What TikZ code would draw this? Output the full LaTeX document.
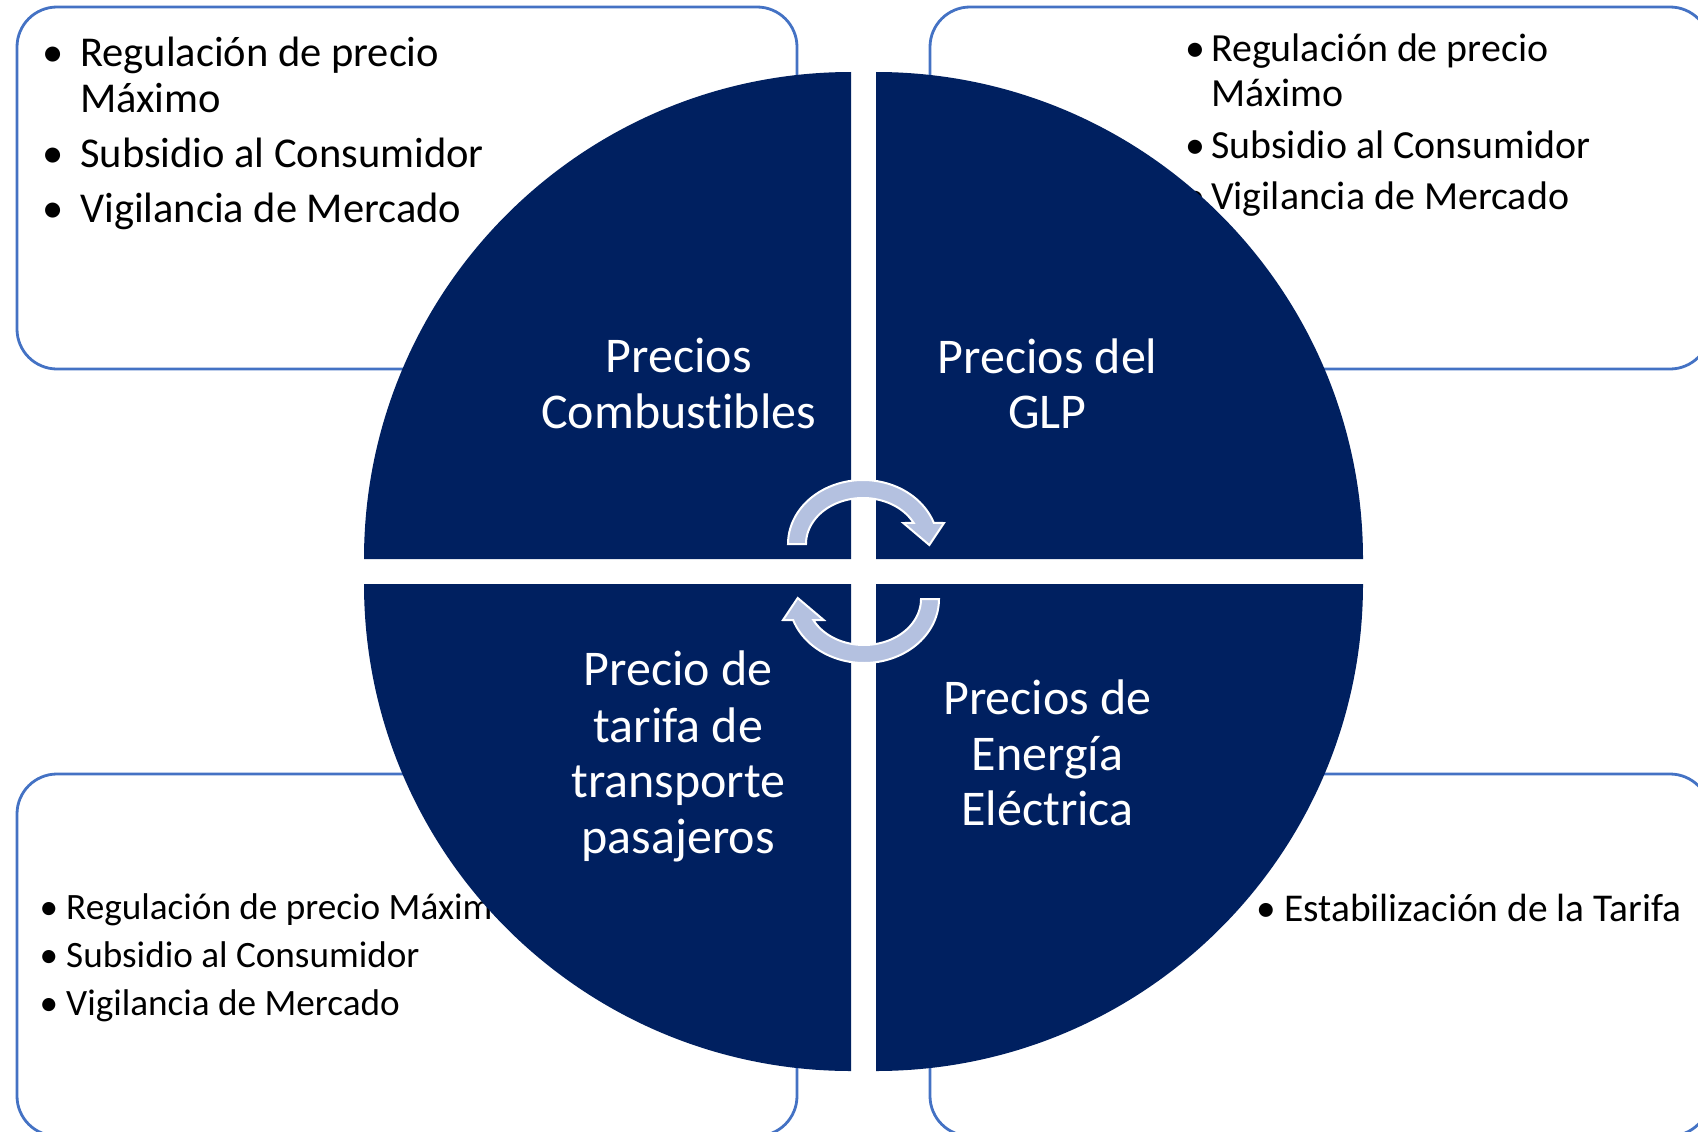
\documentclass[tikz,border=0pt]{standalone}
\usepackage{fontspec}
\setmainfont[Ligatures={NoCommon}]{Carlito}
\definecolor{navy}{HTML}{002060}
\definecolor{boxblue}{HTML}{4472C4}
\definecolor{arrowfill}{HTML}{B4C1E0}
\newcommand\setfs[1]{\fontsize{#1}{#1}\selectfont}
\begin{document}
\begin{tikzpicture}[x=1pt,y=-1pt,
  infobox/.style={draw=boxblue, line width=2.8pt, rounded corners=40pt},
  quad/.style={fill=navy},
  txt/.style={anchor=base west, inner sep=0pt, text=black},
  bul/.style={anchor=base, inner sep=0pt, text=black},
  lab/.style={anchor=base, inner sep=0pt, text=white, font=\setfs{50}},
  cyc/.style={fill=arrowfill, draw=white, line width=2pt, line join=miter}]
\useasboundingbox (0,0) rectangle (1698,1132);
\clip (0,0) rectangle (1698,1132);
\fill[white] (0,0) rectangle (1698,1132);

% boxes
\draw[infobox] (17,7) rectangle (797,369);
\draw[infobox] (930,7) rectangle (1710,369);
\draw[infobox] (17,774) rectangle (797,1136);
\draw[infobox] (930,774) rectangle (1710,1136);

% top-left box text
\begin{scope}[every node/.append style={font=\setfs{42.5}}]
\node[bul] (tl1b) at (52.6,66.8) {\textbullet};
\node[txt] (tl1) at (80,66.8) {Regulación de precio};
\node[txt] (tl1c) at (80,112.6) {Máximo};
\node[bul] (tl2b) at (52.6,167.9) {\textbullet};
\node[txt] (tl2) at (80,167.9) {Subsidio al Consumidor};
\node[bul] (tl3b) at (52.6,222) {\textbullet};
\node[txt] (tl3) at (80,222) {Vigilancia de Mercado};
\end{scope}

% top-right box text
\begin{scope}[every node/.append style={font=\setfs{39.9}}]
\node[bul] (tr1b) at (1195,62) {\textbullet};
\node[txt] (tr1) at (1211,62) {Regulación de precio};
\node[txt] (tr1c) at (1211,106.5) {Máximo};
\node[bul] (tr2b) at (1195,158) {\textbullet};
\node[txt] (tr2) at (1211,158) {Subsidio al Consumidor};
\node[bul] (tr3b) at (1195,209.4) {\textbullet};
\node[txt] (tr3) at (1211,209.4) {Vigilancia de Mercado};
\end{scope}

% bottom-left box text
\begin{scope}[every node/.append style={font=\setfs{37.2}}]
\node[bul] (bl1b) at (49,919) {\textbullet};
\node[txt] (bl1) at (66,919) {Regulación de precio Máximo};
\node[bul] (bl2b) at (49,967.4) {\textbullet};
\node[txt] (bl2) at (66,967.4) {Subsidio al Consumidor};
\node[bul] (bl3b) at (49,1015.5) {\textbullet};
\node[txt] (bl3) at (66,1015.5) {Vigilancia de Mercado};
\end{scope}

% bottom-right box text
\begin{scope}[every node/.append style={font=\setfs{39.4}}]
\node[bul] (br1b) at (1266,921.6) {\textbullet};
\node[txt] (br1) at (1284,921.6) {Estabilización de la Tarifa};
\end{scope}

% quadrants: quarter discs centred at the inner corners
\fill[quad] (851,559) -- (851,72) arc[start angle=-90, end angle=-180, radius=487] -- cycle;
\fill[quad] (876,559) -- (876,72) arc[start angle=-90, end angle=0, radius=487] -- cycle;
\fill[quad] (851,584) -- (851,1071) arc[start angle=90, end angle=180, radius=487] -- cycle;
\fill[quad] (876,584) -- (876,1071) arc[start angle=90, end angle=0, radius=487] -- cycle;

% quadrant labels
\node[lab] (q1a) at (678.7,372.6) {Precios};
\node[lab] (q1b) at (678.7,428.5) {Combustibles};
\node[lab] (q2a) at (1047.5,373.6) {Precios del};
\node[lab] (q2b) at (1047.5,428.5) {GLP};
\node[lab] (q3a) at (678.3,685.9) {Precio de};
\node[lab] (q3b) at (678.3,742.2) {tarifa de};
\node[lab] (q3c) at (678.3,797) {transporte};
\node[lab] (q3d) at (678.3,853) {pasajeros};
\node[lab] (q4a) at (1047.5,714) {Precios de};
\node[lab] (q4b) at (1047.5,770) {Energía};
\node[lab] (q4c) at (1047.5,825) {Eléctrica};

% cycle arrows
\fill[cyc] plot[domain=-180:-19.2, samples=60] ({863+75*cos(\x)},{544+64*sin(\x)})
  -- (944,523) -- (929.3,545) -- (903.3,523)
  -- plot[domain=-27.2:-180, samples=60] ({863+57*cos(\x)},{544+46*sin(\x)}) -- cycle;
\begin{scope}[rotate around={180:(863.5,571.5)}]
\fill[cyc] plot[domain=-180:-19.2, samples=60] ({863+75*cos(\x)},{544+64*sin(\x)})
  -- (944,523) -- (929.3,545) -- (903.3,523)
  -- plot[domain=-27.2:-180, samples=60] ({863+57*cos(\x)},{544+46*sin(\x)}) -- cycle;
\end{scope}
\end{tikzpicture}
\end{document}
